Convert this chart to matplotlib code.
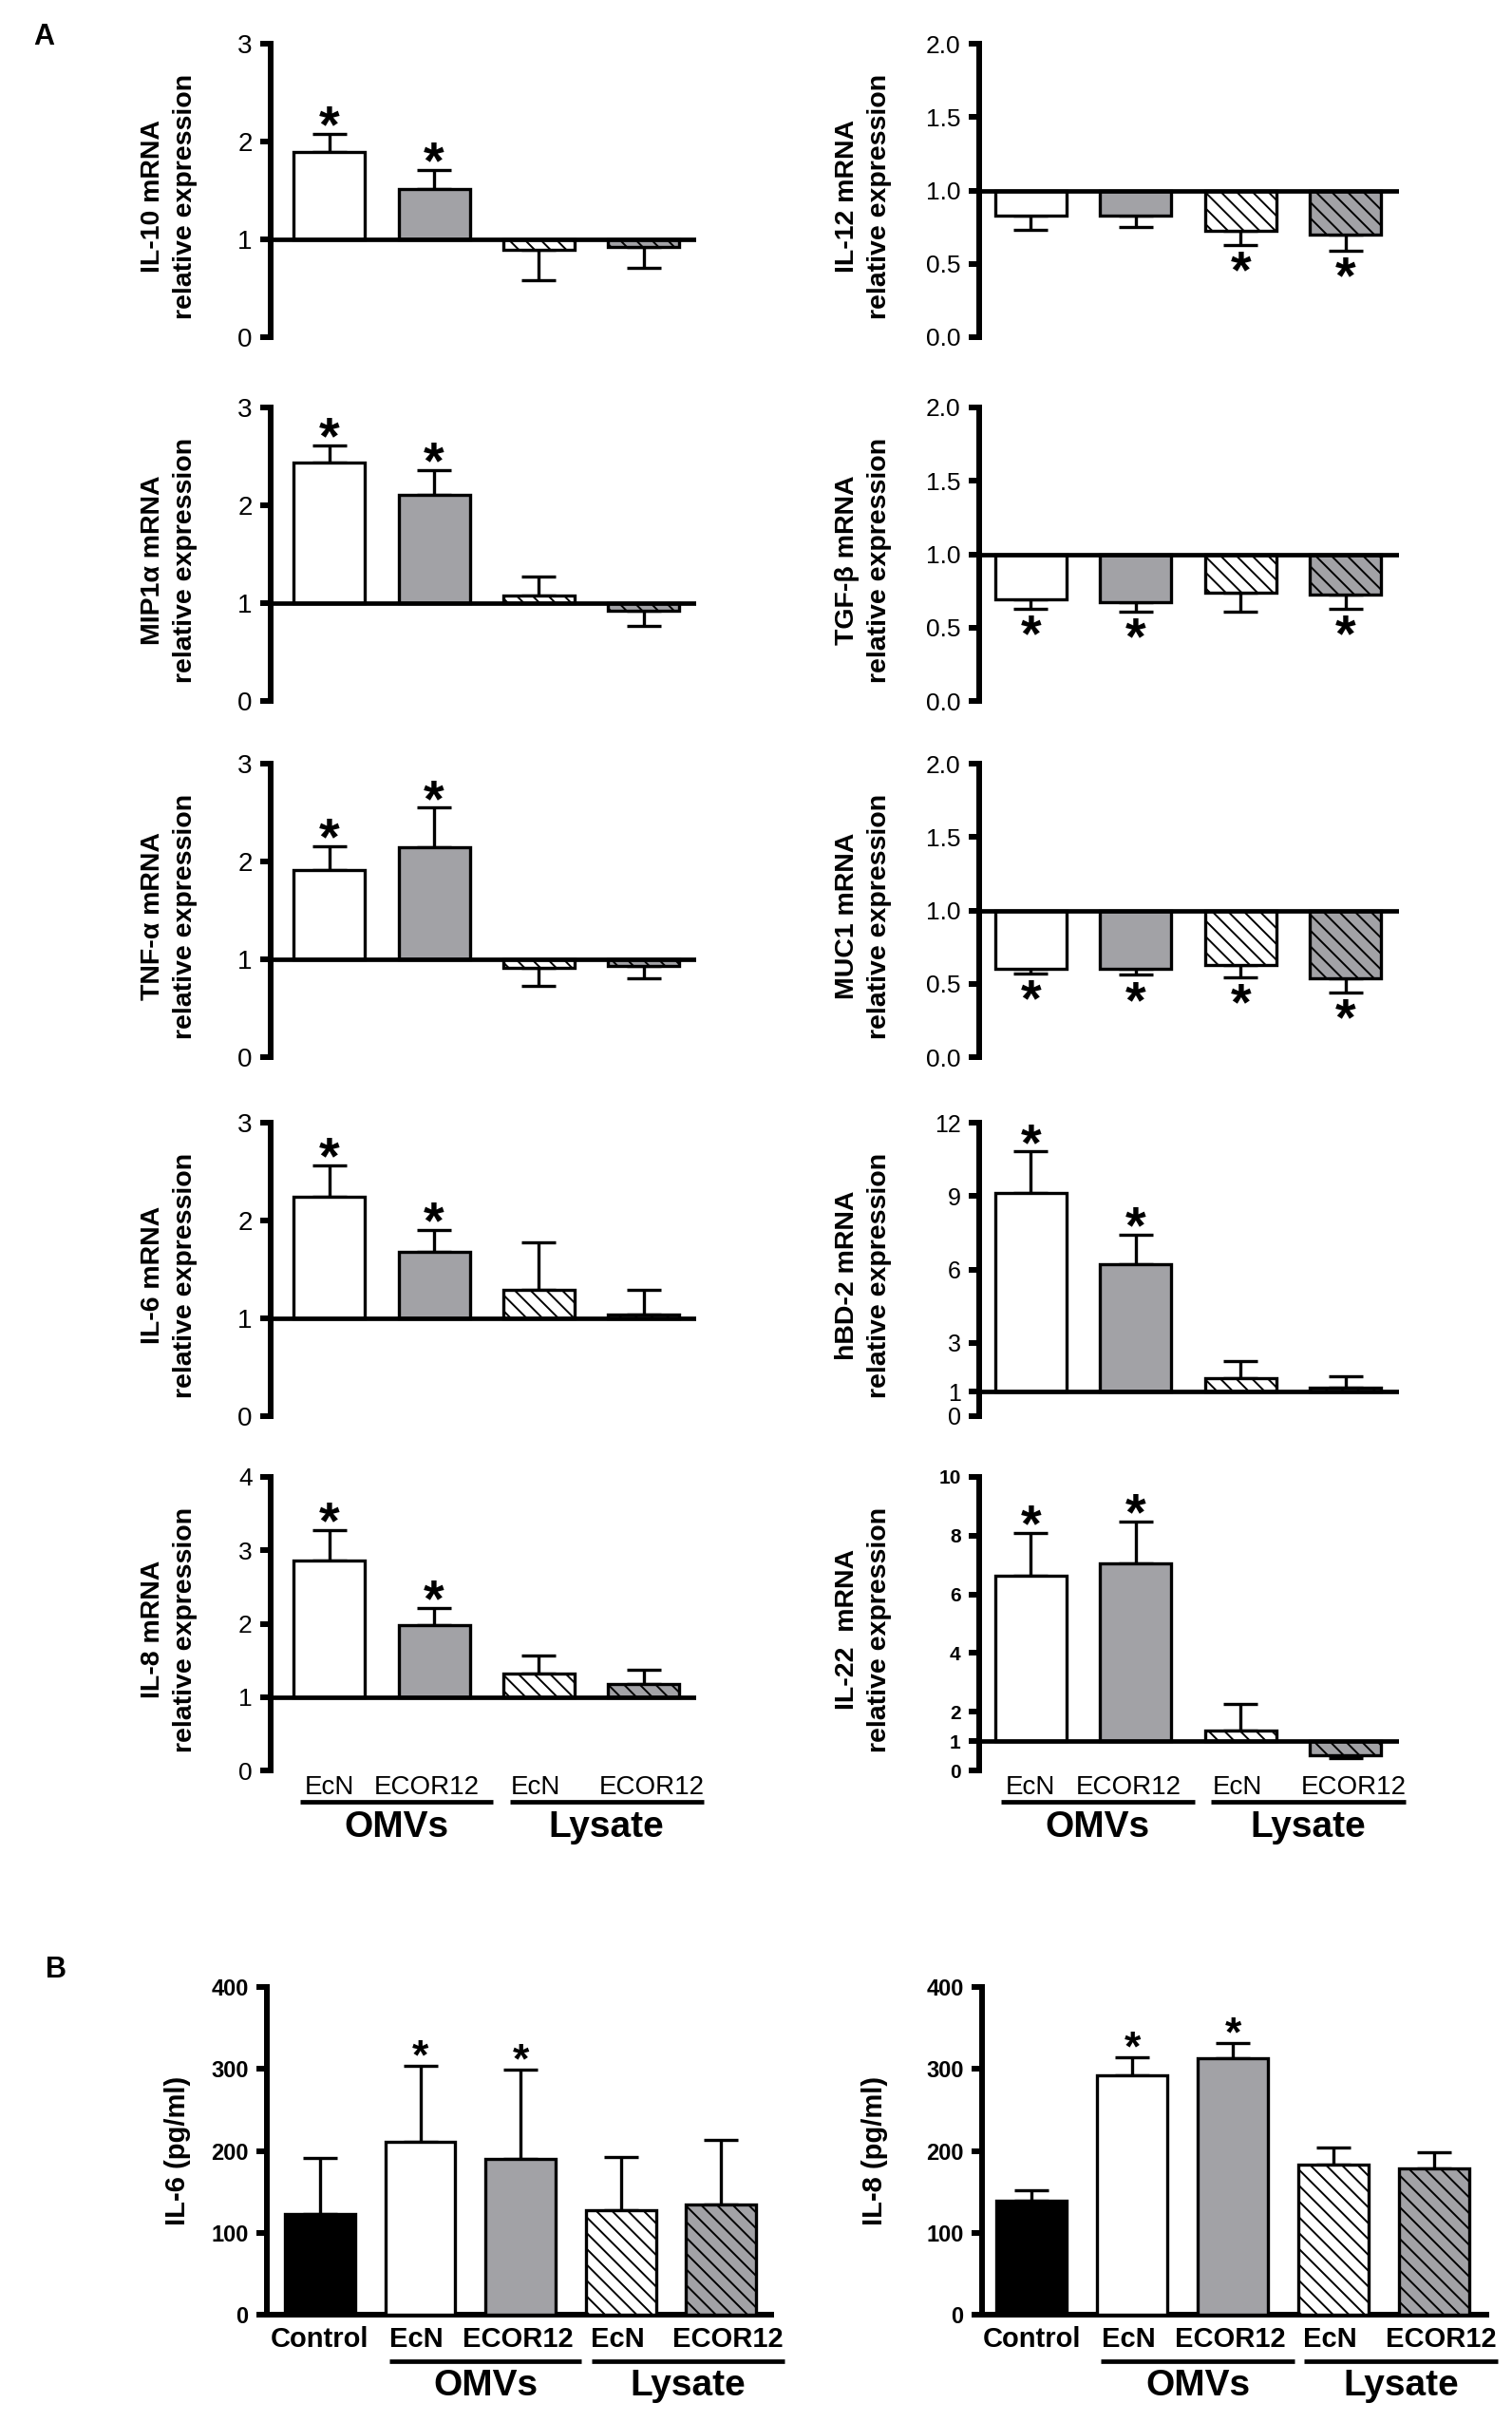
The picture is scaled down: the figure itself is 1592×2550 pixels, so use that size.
import matplotlib
matplotlib.use("Agg")
import matplotlib.pyplot as plt
from matplotlib.lines import Line2D

plt.rcParams["font.family"] = ["Liberation Sans", "DejaVu Sans"]
plt.rcParams["hatch.linewidth"] = 1.4

# ---------------- data, panel A (relative mRNA expression, control = 1) ----------------
strains = ["EcN", "ECOR12", "EcN", "ECOR12"]
treatments = ["OMVs", "Lysate"]

il10_mean = [1.89, 1.51, 0.89, 0.925]
il10_sem = [0.19, 0.20, 0.31, 0.215]
il10_sig = [True, True, False, False]

mip1a_mean = [2.44, 2.11, 1.08, 0.92]
mip1a_sem = [0.17, 0.25, 0.19, 0.15]
mip1a_sig = [True, True, False, False]

tnfa_mean = [1.91, 2.15, 0.91, 0.93]
tnfa_sem = [0.25, 0.40, 0.18, 0.12]
tnfa_sig = [True, True, False, False]

il6_mean = [2.24, 1.68, 1.29, 1.04]
il6_sem = [0.32, 0.22, 0.49, 0.25]
il6_sig = [True, True, False, False]

il8_mean = [2.86, 1.98, 1.32, 1.18]
il8_sem = [0.42, 0.23, 0.24, 0.19]
il8_sig = [True, True, False, False]

il12_mean = [0.83, 0.83, 0.725, 0.70]
il12_sem = [0.10, 0.08, 0.095, 0.11]
il12_sig = [False, False, True, True]

tgfb_mean = [0.69, 0.67, 0.74, 0.725]
tgfb_sem = [0.06, 0.06, 0.13, 0.095]
tgfb_sig = [True, True, False, True]

muc1_mean = [0.60, 0.60, 0.63, 0.54]
muc1_sem = [0.03, 0.04, 0.085, 0.10]
muc1_sig = [True, True, True, True]

hbd2_mean = [9.14, 6.23, 1.55, 1.16]
hbd2_sem = [1.68, 1.18, 0.69, 0.46]
hbd2_sig = [True, True, False, False]

il22_mean = [6.64, 7.04, 1.37, 0.51]
il22_sem = [1.46, 1.43, 0.91, 0.09]
il22_sig = [True, True, False, False]

# ---------------- data, panel B (secreted cytokine, pg/ml) ----------------
b_groups = ["Control", "EcN", "ECOR12", "EcN", "ECOR12"]

il6_pg_mean = [122.7, 210.6, 189.8, 128.0, 134.0]
il6_pg_sem = [68.3, 93.4, 108.8, 64.0, 79.5]
il6_pg_sig = [False, True, True, False, False]

il8_pg_mean = [138.8, 292.7, 312.7, 183.7, 178.0]
il8_pg_sem = [13.0, 21.2, 18.7, 20.0, 20.4]
il8_pg_sig = [False, True, True, False, False]

# ---------------- styling ----------------
FIG_W, FIG_H = 1592, 2550
GRAY = "#a2a2a6"
HATCH = "\\\\"
A_FACES = ["white", GRAY, "white", GRAY]
A_HATCHES = [None, None, HATCH, HATCH]
B_FACES = ["black", "white", GRAY, "white", GRAY]
B_HATCHES = [None, None, None, HATCH, HATCH]
SPINE_W = 4.3
BAR_W = 2.4

fig = plt.figure(figsize=(FIG_W / 100, FIG_H / 100), dpi=100)


def add_axes_px(left, top, width, height):
    return fig.add_axes([left / FIG_W, 1 - (top + height) / FIG_H,
                         width / FIG_W, height / FIG_H])


def draw_bars(ax, mean, sem, sig, base, faces, hatches, width, star_size, star_up, star_down):
    x = list(range(len(mean)))
    bars = ax.bar(x, [m - base for m in mean], bottom=base, width=width,
                  color=faces, edgecolor="black", linewidth=BAR_W, zorder=3)
    for bar, h in zip(bars, hatches):
        if h:
            bar.set_hatch(h)
    for i, (m, s, star) in enumerate(zip(mean, sem, sig)):
        up = m >= base
        yerr = [[0], [s]] if up else [[s], [0]]
        ax.errorbar(i, m, yerr=yerr, fmt="none", ecolor="black", elinewidth=BAR_W,
                    capsize=13, capthick=BAR_W, zorder=2)
        if star:
            tip = m + s if up else m - s
            ax.annotate("*", xy=(i, tip), xytext=(0, star_up if up else star_down),
                        textcoords="offset points", ha="center", va="center",
                        fontsize=star_size, fontweight="bold", annotation_clip=False)


def style_axes(ax, xlim, ylim, ticks, ticklabels, tick_size, tick_weight, bottom_spine):
    ax.set_xlim(*xlim)
    ax.set_ylim(*ylim)
    for side in ["top", "right"]:
        ax.spines[side].set_visible(False)
    ax.spines["bottom"].set_visible(bottom_spine)
    ax.spines["bottom"].set_linewidth(SPINE_W)
    ax.spines["left"].set_linewidth(SPINE_W)
    ax.set_xticks([])
    ax.set_yticks(ticks)
    ax.set_yticklabels(ticklabels, fontsize=tick_size, fontweight=tick_weight)
    ax.tick_params(axis="y", direction="out", length=8, width=SPINE_W, pad=6)
    ax.patch.set_visible(False)


def add_groups(ax, axes_h, label_x, labels, label_size, label_weight,
               text_top, line_y, lines, name_y, names):
    tr = ax.get_xaxis_transform()
    for x, lab in zip(label_x, labels):
        ax.text(x, -text_top / axes_h, lab, transform=tr, ha="center", va="top",
                fontsize=label_size, fontweight=label_weight, clip_on=False)
    for (x0, x1), name in zip(lines, names):
        ax.add_line(Line2D([x0, x1], [-line_y / axes_h] * 2, transform=tr, color="black",
                           lw=3.4, solid_capstyle="butt", clip_on=False))
        ax.text((x0 + x1) / 2, -name_y / axes_h, name, transform=tr, ha="center",
                va="center", fontsize=28, fontweight="bold", clip_on=False)


# ---------------- panel A ----------------
row_tops = [46, 429, 804, 1182, 1555]
ROW_H = 309
cols = {"L": (285, 448, (-0.56, 3.5), -0.238), "R": (1031, 442, (-0.49, 3.51), -0.276)}

ticks_3 = [0, 1, 2, 3]
ticks_4 = [0, 1, 2, 3, 4]
ticks_2 = [0, 0.5, 1.0, 1.5, 2.0]
ticks_hbd = [0, 1, 3, 6, 9, 12]
ticks_il22 = [0, 1, 2, 4, 6, 8, 10]

panels_a = [
    ("L", 0, "IL-10 mRNA\nrelative expression", il10_mean, il10_sem, il10_sig, ticks_3, 3, "%g", 20, "normal"),
    ("L", 1, "MIP1α mRNA\nrelative expression", mip1a_mean, mip1a_sem, mip1a_sig, ticks_3, 3, "%g", 20, "normal"),
    ("L", 2, "TNF-α mRNA\nrelative expression", tnfa_mean, tnfa_sem, tnfa_sig, ticks_3, 3, "%g", 20, "normal"),
    ("L", 3, "IL-6 mRNA\nrelative expression", il6_mean, il6_sem, il6_sig, ticks_3, 3, "%g", 20, "normal"),
    ("L", 4, "IL-8 mRNA\nrelative expression", il8_mean, il8_sem, il8_sig, ticks_4, 4, "%g", 19, "normal"),
    ("R", 0, "IL-12 mRNA\nrelative expression", il12_mean, il12_sem, il12_sig, ticks_2, 2, "%.1f", 19, "normal"),
    ("R", 1, "TGF-β mRNA\nrelative expression", tgfb_mean, tgfb_sem, tgfb_sig, ticks_2, 2, "%.1f", 19, "normal"),
    ("R", 2, "MUC1 mRNA\nrelative expression", muc1_mean, muc1_sem, muc1_sig, ticks_2, 2, "%.1f", 19, "normal"),
    ("R", 3, "hBD-2 mRNA\nrelative expression", hbd2_mean, hbd2_sem, hbd2_sig, ticks_hbd, 12, "%g", 18, "normal"),
    ("R", 4, "IL-22  mRNA\nrelative expression", il22_mean, il22_sem, il22_sig, ticks_il22, 10, "%g", 15, "bold"),
]

for col, row, label, mean, sem, sig, ticks, top, fmt, tsize, tweight in panels_a:
    left, width, xlim, label_x = cols[col]
    ax = add_axes_px(left, row_tops[row], width, ROW_H)
    draw_bars(ax, mean, sem, sig, 1, A_FACES, A_HATCHES, 0.68, 40, 4, -22)
    ax.axhline(1, color="black", lw=3.4, zorder=4)
    style_axes(ax, xlim, (0, top), ticks, [fmt % t for t in ticks], tsize, tweight, False)
    ax.text(label_x, 0.48, label, transform=ax.transAxes, rotation=90, ha="center",
            va="center", fontsize=20.5, fontweight="bold", linespacing=1.4)
    if row == 4:
        add_groups(ax, ROW_H, [0.0, 0.93, 1.97, 3.08], strains, 20, "normal",
                   5, 33, [(-0.28, 1.56), (1.72, 3.57)], 60, treatments)

# ---------------- panel B ----------------
B_TOP, B_H, B_W = 2092, 345, 531
panels_b = [
    (281, (-0.53, 4.5), -0.177, "IL-6 (pg/ml)", il6_pg_mean, il6_pg_sem, il6_pg_sig),
    (1034, (-0.494, 4.52), -0.212, "IL-8 (pg/ml)", il8_pg_mean, il8_pg_sem, il8_pg_sig),
]
b_ticks = [0, 100, 200, 300, 400]

for left, xlim, label_x, label, mean, sem, sig in panels_b:
    ax = add_axes_px(left, B_TOP, B_W, B_H)
    draw_bars(ax, mean, sem, sig, 0, B_FACES, B_HATCHES, 0.70, 32, 6, -20)
    style_axes(ax, xlim, (0, 400), b_ticks, [str(t) for t in b_ticks], 17, "bold", True)
    ax.text(label_x, 0.5, label, transform=ax.transAxes, rotation=90, ha="center",
            va="center", fontsize=21, fontweight="bold")
    add_groups(ax, B_H, [0.0, 0.96, 1.97, 2.97, 4.07], b_groups, 21, "bold",
               12, 49, [(0.69, 2.61), (2.71, 4.63)], 75, treatments)

fig.text(46 / FIG_W, 1 - 39 / FIG_H, "A", ha="center", va="center", fontsize=22, fontweight="bold")
fig.text(59 / FIG_W, 1 - 2074 / FIG_H, "B", ha="center", va="center", fontsize=22, fontweight="bold")

fig.savefig("out.png", dpi=100, facecolor="white")
